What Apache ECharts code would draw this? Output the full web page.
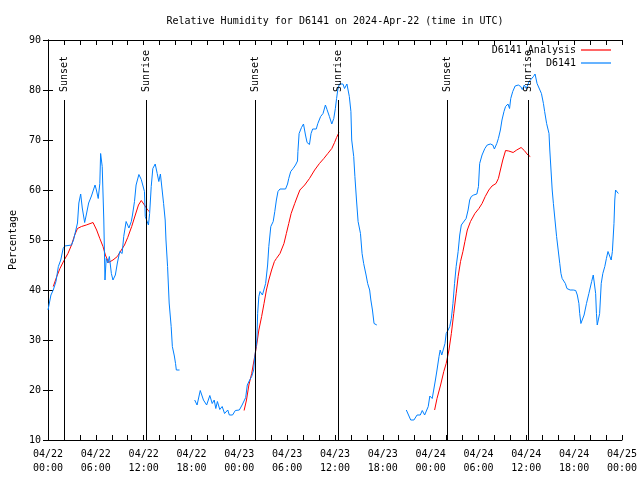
<!DOCTYPE html>
<html>
<head>
<meta charset="utf-8">
<script src="https://cdn.jsdelivr.net/npm/echarts@6/dist/echarts.min.js"></script>
<style>html,body{margin:0;padding:0;background:#fff}#c{width:640px;height:480px}</style>
</head>
<body>
<div id="c"></div>
<script>
// Hours since 2024-04-22 00:00 UTC; null value = gap in record
const obsHours = [0.0,0.37,0.66,1.0,1.3,1.6,1.9,2.1,2.95,3.2,3.45,3.7,3.87,4.1,4.3,4.6,4.8,5.1,5.45,5.9,6.07,6.3,6.5,6.6,6.8,7.0,7.15,7.3,7.5,7.7,7.95,8.15,8.45,8.7,9.0,9.3,9.5,9.8,10.0,10.15,10.45,10.6,10.85,11.05,11.4,11.7,11.9,12.1,12.2,12.45,12.6,12.75,12.95,13.15,13.45,13.7,13.9,14.1,14.25,14.5,14.7,14.8,15.0,15.2,15.45,15.6,15.85,16.0,16.1,16.5,
  17.5,
  18.4,18.7,19.1,19.5,19.9,20.3,20.6,20.85,21.05,21.25,21.55,21.85,22.15,22.55,22.75,23.15,23.5,24.0,24.35,24.6,24.8,25.0,25.3,25.55,25.8,25.9,25.95,26.2,26.3,26.45,26.6,26.9,27.1,27.3,27.55,27.7,27.95,28.25,28.45,28.65,28.85,29.1,29.8,30.05,30.2,30.45,30.75,31.05,31.3,31.35,31.5,31.8,32.05,32.3,32.5,32.8,33.0,33.2,33.65,33.85,34.2,34.5,34.8,35.0,35.3,35.6,35.85,36.05,36.2,36.35,36.55,37.0,37.2,37.5,37.8,38.0,38.1,38.35,38.5,38.7,38.9,39.2,39.4,39.6,39.9,40.1,40.35,40.5,40.7,40.9,41.25,
  43.0,
  44.95,45.5,45.9,46.3,46.7,46.95,47.25,47.5,47.7,47.9,48.2,48.45,48.6,48.8,49.05,49.2,49.4,49.65,49.8,49.95,50.2,50.4,50.6,50.8,51.0,51.2,51.45,51.65,51.85,52.1,52.45,52.7,52.9,53.1,53.4,53.8,54.0,54.15,54.45,54.8,55.1,55.5,55.8,56.0,56.3,56.5,56.75,56.95,57.2,57.4,57.7,57.9,58.05,58.3,58.6,59.0,59.3,59.5,59.75,60.0,60.35,60.6,60.9,61.1,61.35,61.6,61.9,62.15,62.3,62.55,62.85,62.95,63.1,63.25,63.4,63.6,63.8,64.0,64.2,64.35,64.5,64.7,64.9,65.1,65.3,65.5,65.9,66.2,66.4,66.6,66.7,66.85,67.05,67.25,67.55,67.85,68.2,68.4,68.65,68.7,68.8,68.9,69.1,69.2,69.4,69.6,69.85,70.05,70.25,70.45,70.65,70.8,71.0,71.1,71.2,71.4,71.55];
const obsValues = [36,39,40,41.7,44.7,46,48.3,48.8,49,50,50.2,53.4,57.4,59.2,56.4,53.5,55,57.4,58.8,61,60,58.3,61.3,67.3,64.7,54,42,46.3,45.4,46.7,43.3,42,43,45.4,47.7,47.3,50.7,53.7,54.1,52.4,53.7,55,57.7,61,63.1,62.1,62,59.7,54.7,54.3,53,55.3,60.7,64.3,65.2,63.3,61.7,63.2,61,57.3,54,50,44.7,37.4,32.7,28.7,26.8,25.3,24,24,
  null,
  18,17,19.9,18,17,18.9,17.3,18,16.3,17.7,16.1,16.7,15.3,16,15,15,15.9,16,17,17,18.5,21,22,22.7,24,26,26.7,30,35.3,38.7,39.7,39,39,41.3,45,48.7,52.7,53.7,55.7,58,59.7,60.2,60.2,61.2,62.3,63.7,64.3,65,65.8,67.7,71.3,72.5,73.2,71,69.5,69.1,71.3,72.2,72.2,73.3,74.7,75.3,77,76.1,74.7,73.2,74.3,76.3,78.3,80,81.2,81.2,80.3,81.2,78.7,75.7,70,66.7,62.7,58,53.7,51.3,47.3,45.3,43,41.3,40,38,36,33.3,33,
  null,
  16,14,14,15,15,15.9,15,15,16.7,18.8,18.3,18,22,24,26.7,28,27,27,29.3,31.3,32,32.7,34.3,37.3,41.3,44.7,47.7,51,53,53.3,54.3,56,58,58.7,59,59.2,60.7,65.3,67,68.3,69,69.2,69,68.2,69.3,70.3,72,74,75.7,76.7,77.2,76.3,78.3,79.7,80.8,81,80.7,80.1,81,80.3,81.7,82.1,82.7,83.2,81.3,81,79.3,77.3,75.7,73.3,71.3,68,64,60,57.3,54,50.7,48,45.3,43.3,42.3,42,41.3,40.3,40.7,40,40,39.9,39,37.3,35.3,33.3,33.3,35,37.3,39.3,41.7,43,43,39.3,35.3,33,33.3,35.3,41.3,43.3,44.7,46.3,47.7,48,46,47.7,53.3,58,60,59.7,59.3];

const anaHours = [0.66,1.1,1.5,2.0,2.5,2.95,3.35,3.7,4.2,4.8,5.65,6.1,6.5,6.9,7.2,7.6,8.15,8.7,9.2,9.6,10.0,10.5,10.95,11.35,11.7,12.1,12.5,12.7,
  18.0,
  24.6,24.9,25.2,25.55,25.85,26.15,26.45,26.8,27.1,27.4,27.7,28.05,28.4,28.65,29.1,29.6,29.9,30.2,30.5,30.95,31.35,31.6,32.2,32.8,33.45,34.05,34.6,35.1,35.6,35.95,36.2,36.5,
  42.0,
  48.5,48.8,49.25,49.65,49.95,50.3,50.6,50.9,51.2,51.45,51.75,52.05,52.3,52.6,53.0,53.55,54.05,54.45,54.85,55.3,55.7,56.2,56.5,56.75,57.05,57.4,57.8,58.35,58.8,59.35,59.75,60.2,60.5];
const anaValues = [40.7,42.7,44.3,45.9,47.3,49,51,52.3,52.7,53,53.5,52,50.3,48.7,47,45.5,46,46.7,48,49,50.5,52.7,55,57,57.9,57,56,55.7,
  null,
  15.9,18,21,23.3,26,28.7,32,34.7,37.3,40,42,44,45.7,46.3,47.3,49.3,51.3,53.3,55.3,57.3,59,60,61,62.3,64,65.3,66.3,67.3,68.3,69.5,70.5,71.5,
  null,
  16,18.3,21,23.7,25.3,28,31.3,35.3,39.3,42.7,45.7,47.7,49.7,52,53.7,55.3,56.3,57.3,58.7,60,60.8,61.3,62.3,64,66,67.9,67.8,67.5,68,68.5,67.9,67,66.7];

const sunHours = [2.0, 12.35, 26.0, 36.35, 50.0, 60.2];
const sunLabels = ['Sunset', 'Sunrise', 'Sunset', 'Sunrise', 'Sunset', 'Sunrise'];
const sunLineTop = 78;

const xTickLabels = ['04/22\n00:00','04/22\n06:00','04/22\n12:00','04/22\n18:00','04/23\n00:00','04/23\n06:00','04/23\n12:00','04/23\n18:00','04/24\n00:00','04/24\n06:00','04/24\n12:00','04/24\n18:00','04/25\n00:00'];

const titleText = 'Relative Humidity for D6141 on 2024-Apr-22 (time in UTC)';
const FONT = 'DejaVu Sans Mono';

function pairs(hs, vs) { return hs.map((h, i) => [h, vs[i] === null ? '-' : vs[i]]); }

const chart = echarts.init(document.getElementById('c'), null, {renderer: 'canvas'});
const axisLineStyle = {color: '#000', width: 1};
chart.setOption({
  animation: false,
  backgroundColor: '#fff',
  textStyle: {fontFamily: FONT},
  title: {
    text: titleText, left: 330, top: 11, textAlign: 'center',
    textStyle: {fontFamily: FONT, fontSize: 10, fontWeight: 'normal', color: '#000'}
  },
  legend: [
    {data: ['D6141 Analysis'], right: 29, top: 44, orient: 'vertical', align: 'right', padding: 0,
     icon: 'rect', itemWidth: 30, itemHeight: 1.2,
     textStyle: {fontFamily: FONT, fontSize: 10, color: '#000', lineHeight: 12}},
    {data: ['D6141'], right: 29, top: 57, orient: 'vertical', align: 'right', padding: 0,
     icon: 'rect', itemWidth: 30, itemHeight: 1.2,
     textStyle: {fontFamily: FONT, fontSize: 10, color: '#000', lineHeight: 12}}
  ],
  grid: {left: 47, right: 16, top: 40, bottom: 40, containLabel: false},
  xAxis: [
    {type: 'value', min: 0, max: 72, interval: 2, position: 'bottom',
     axisLine: {lineStyle: axisLineStyle}, splitLine: {show: false},
     axisTick: {inside: true, length: 5, lineStyle: axisLineStyle},
     axisLabel: {margin: 7, color: '#000', fontFamily: FONT, fontSize: 10, lineHeight: 14,
       formatter: v => (v % 6 === 0 ? xTickLabels[v / 6] : '')}},
    {type: 'value', min: 0, max: 72, interval: 2, position: 'top',
     axisLine: {lineStyle: axisLineStyle}, splitLine: {show: false},
     axisTick: {inside: true, length: 5, lineStyle: axisLineStyle},
     axisLabel: {show: false}}
  ],
  yAxis: [
    {type: 'value', min: 10, max: 90, interval: 10, position: 'left',
     name: 'Percentage', nameLocation: 'middle', nameGap: 30,
     nameTextStyle: {fontFamily: FONT, fontSize: 10, color: '#000'},
     axisLine: {show: true, lineStyle: axisLineStyle}, splitLine: {show: false},
     axisTick: {inside: true, length: 5, lineStyle: axisLineStyle},
     axisLabel: {margin: 7, color: '#000', fontFamily: FONT, fontSize: 10}},
    {type: 'value', min: 10, max: 90, interval: 10, position: 'right',
     axisLine: {show: true, lineStyle: axisLineStyle}, splitLine: {show: false},
     axisTick: {inside: true, length: 5, lineStyle: axisLineStyle},
     axisLabel: {show: false}}
  ],
  series: [
    {name: 'D6141 Analysis', type: 'line', data: pairs(anaHours, anaValues),
     showSymbol: false, symbol: 'none', connectNulls: false, color: '#ff0000',
     lineStyle: {width: 1, color: '#ff0000'}, z: 3},
    {name: 'D6141', type: 'line', data: pairs(obsHours, obsValues),
     showSymbol: false, symbol: 'none', connectNulls: false, color: '#0080ff',
     lineStyle: {width: 1, color: '#0080ff'}, z: 4},
    {name: 'sun', type: 'custom', data: sunHours.map(h => [h, sunLineTop]),
     encode: {x: 0, y: 1}, z: 5, silent: true,
     renderItem: function (params, api) {
       const t = api.value(0);
       const top = api.coord([t, api.value(1)]);
       const bot = api.coord([t, 10]);
       const x = Math.round(top[0]) + 0.5;
       return {type: 'group', children: [
         {type: 'line', shape: {x1: x, y1: top[1], x2: x, y2: bot[1]},
          style: {stroke: '#000', lineWidth: 1}},
         {type: 'text', x: x, y: top[1] - 8, rotation: Math.PI / 2,
          style: {text: sunLabels[params.dataIndex], textAlign: 'left', textVerticalAlign: 'middle',
                  font: '10px "' + FONT + '"', fill: '#000'}}
       ]};
     }}
  ]
});
</script>
</body>
</html>
